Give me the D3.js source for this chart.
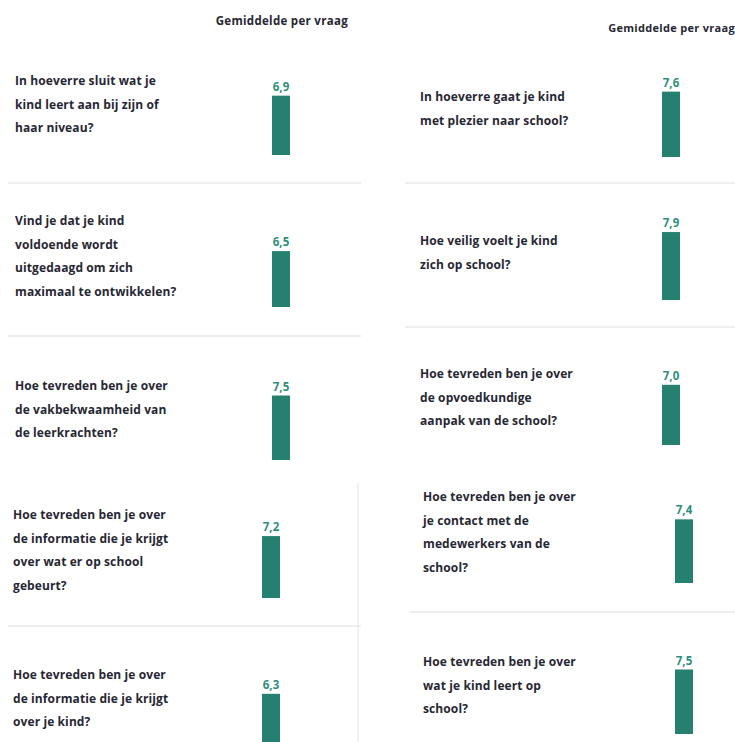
<!DOCTYPE html>
<html>
<head>
<meta charset="utf-8">
<script src="https://cdn.jsdelivr.net/npm/d3@7"></script>
<style>
  body { margin: 0; background: #fff; }
  svg { display: block; }
  text { font-family: "Open Sans", Lato, sans-serif; }
</style>
</head>
<body>
<script>
var w = 735;
var h = 742;

// data
var headerLabel = "Gemiddelde per vraag";

var leftQuestions = [
  ["In hoeverre sluit wat je", "kind leert aan bij zijn of", "haar niveau?"],
  ["Vind je dat je kind", "voldoende wordt", "uitgedaagd om zich", "maximaal te ontwikkelen?"],
  ["Hoe tevreden ben je over", "de vakbekwaamheid van", "de leerkrachten?"],
  ["Hoe tevreden ben je over", "de informatie die je krijgt", "over wat er op school", "gebeurt?"],
  ["Hoe tevreden ben je over", "de informatie die je krijgt", "over je kind?"]
];
var leftValues = [6.9, 6.5, 7.5, 7.2, 6.3];

var rightQuestions = [
  ["In hoeverre gaat je kind", "met plezier naar school?"],
  ["Hoe veilig voelt je kind", "zich op school?"],
  ["Hoe tevreden ben je over", "de opvoedkundige", "aanpak van de school?"],
  ["Hoe tevreden ben je over", "je contact met de", "medewerkers van de", "school?"],
  ["Hoe tevreden ben je over", "wat je kind leert op", "school?"]
];
var rightValues = [7.6, 7.9, 7.0, 7.4, 7.5];

// layout of the pasted panels (not data)
var leftLayout = [
  {tx: 15, ty: 81, bx: 272, base: 155},
  {tx: 15, ty: 221, bx: 272, base: 307},
  {tx: 15, ty: 386, bx: 272, base: 460},
  {tx: 13, ty: 515, bx: 262, base: 598},
  {tx: 13, ty: 675, bx: 262, base: 748}
];
var rightLayout = [
  {tx: 420, ty: 97, bx: 662, base: 157},
  {tx: 420, ty: 241, bx: 662, base: 300},
  {tx: 420, ty: 374, bx: 662, base: 445},
  {tx: 423, ty: 497, bx: 675, base: 583},
  {tx: 423, ty: 662, bx: 675, base: 734}
];

var barColor = "#25806f";
var labelColor = "#2f8f7c";
var textColor = "#272733";
var lineColor = "#e8e8e8";

var svg = d3.select("body").append("svg").attr("width", w).attr("height", h);

var y = d3.scaleLinear().domain([0, 10]).range([0, 86]);

// separators
var hLines = [
  {x1: 8, x2: 361, y: 183},
  {x1: 8, x2: 361, y: 336},
  {x1: 8, x2: 361, y: 626},
  {x1: 405, x2: 735, y: 183},
  {x1: 405, x2: 735, y: 327},
  {x1: 410, x2: 735, y: 612}
];
svg.selectAll("line.sep").data(hLines).enter().append("line")
  .attr("class", "sep")
  .attr("x1", function(d){ return d.x1; })
  .attr("x2", function(d){ return d.x2; })
  .attr("y1", function(d){ return d.y; })
  .attr("y2", function(d){ return d.y; })
  .attr("stroke", lineColor)
  .attr("stroke-width", 1.5);

svg.append("line")
  .attr("x1", 358).attr("x2", 358).attr("y1", 483).attr("y2", 742)
  .attr("stroke", lineColor).attr("stroke-width", 1.2);

// headers
svg.append("text").attr("x", 348).attr("y", 25).attr("text-anchor", "end")
  .attr("font-size", 11.5).attr("font-weight", 700).attr("letter-spacing", 0.3)
  .attr("fill", textColor)
  .text(headerLabel);
svg.append("text").attr("x", 735).attr("y", 32).attr("text-anchor", "end")
  .attr("font-size", 11).attr("font-weight", 700).attr("letter-spacing", 0.3)
  .attr("fill", textColor)
  .text(headerLabel);

var drawColumn = function(questions, values, layout) {
  var rows = values.map(function(v, i){
    return {q: questions[i], v: v, l: layout[i]};
  });

  var g = svg.append("g");

  var qs = g.selectAll("text.q").data(rows).enter().append("text")
    .attr("class", "q")
    .attr("font-size", 12)
    .attr("font-weight", 700)
    .attr("letter-spacing", 0.1)
    .attr("fill", textColor);
  qs.selectAll("tspan").data(function(d){
      return d.q.map(function(s, j){ return {s: s, x: d.l.tx, y: d.l.ty + j * 23.5}; });
    }).enter().append("tspan")
    .attr("x", function(d){ return d.x; })
    .attr("y", function(d){ return d.y + 4; })
    .text(function(d){ return d.s; });

  g.selectAll("rect").data(rows).enter().append("rect")
    .attr("x", function(d){ return d.l.bx; })
    .attr("y", function(d){ return d.l.base - y(d.v); })
    .attr("width", 18)
    .attr("height", function(d){ return y(d.v); })
    .attr("fill", barColor);

  g.selectAll("text.v").data(rows).enter().append("text")
    .attr("class", "v")
    .attr("x", function(d){ return d.l.bx + 9; })
    .attr("y", function(d){ return d.l.base - y(d.v) - 5; })
    .attr("text-anchor", "middle")
    .attr("font-size", 11.5)
    .attr("font-weight", 700)
    .attr("fill", labelColor)
    .text(function(d){ return d3.format(".1f")(d.v).replace(".", ","); });
};

drawColumn(leftQuestions, leftValues, leftLayout);
drawColumn(rightQuestions, rightValues, rightLayout);
</script>
</body>
</html>
